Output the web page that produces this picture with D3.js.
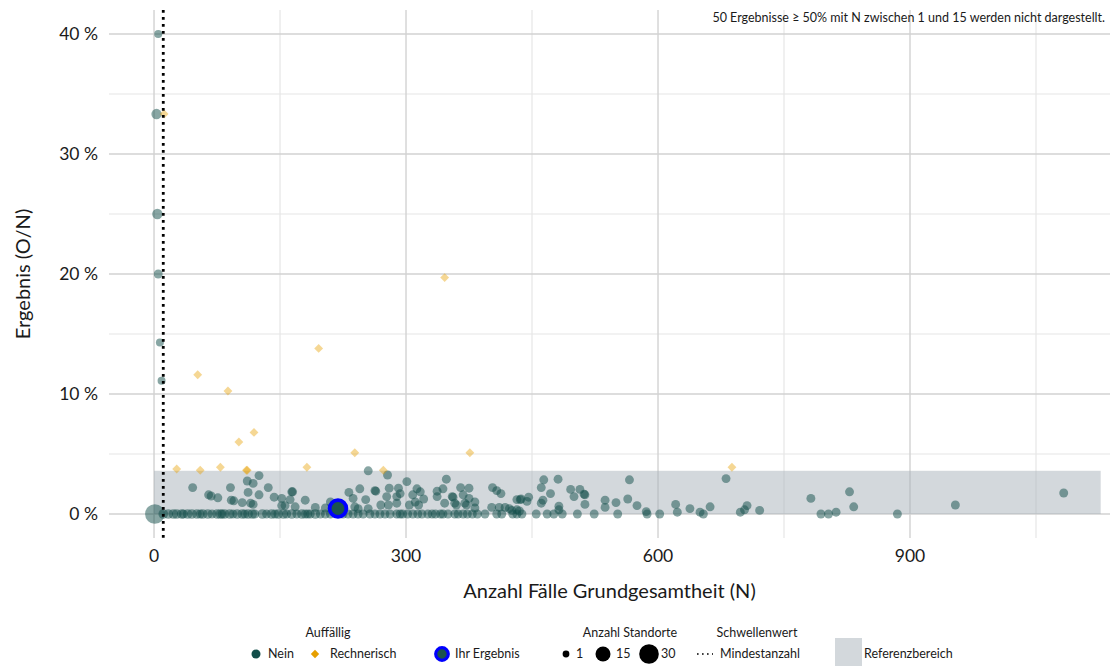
<!DOCTYPE html>
<html>
<head>
<meta charset="utf-8">
<script src="https://cdn.jsdelivr.net/npm/d3@7"></script>
<style>
  body { margin: 0; background: #fff; }
  svg { display: block; font-family: Lato, "Open Sans", sans-serif; }
</style>
</head>
<body>
<svg id="chart" width="1112" height="666"></svg>
<script>
// Results per hospital: number of cases N, result O/N in percent, number of sites
// Hospitals with a result of 0 % : [N, sites]
const zeroPoints = [
  [1,30],[11,4],[17,4],[23,4],[27,4],[33,4],[35,3],[40,4],[45,4],[51,4],[55,3],[58,4],[64,4],[69,3],
  [75,4],[79,4],[81,3],[84,4],[90,4],[94,3],[99,4],[105,4],[108,3],[112,4],[117,4],[120,3],[129,4],
  [134,3],[140,4],[144,3],[148,4],[154,4],[158,3],[164,4],[170,3],[176,4],[180,3],[183,3],[186,3],
  [192,4],[198,3],[204,3],[210,3],[225,3],[231,3],[237,3],[243,3],[249,3],[257,3],[263,3],[269,3],
  [275,3],[281,3],[289,3],[293,3],[296,3],[302,3],[308,3],[314,3],[319,3],[326,3],[331,3],[335,3],
  [341,3],[344,3],[350,3],[358,3],[362,3],[368,3],[373,3],[379,3],[385,3],[394,3],[408,3],[414,3],
  [427,3],[432,3],[438,3],[455,3],[468,3],[476,3],[486,3],[504,3],[524,3],[552,3],[587,3],[602,3],
  [654,3],[794,3],[803,3],[885,3]
];

// Hospitals with a result above 0 %, not flagged: [N, percent, sites]
const neinPoints = [
  [5,40,2],[3,33.33,5],[4,25,5],[5,20,3],[7,14.29,2],[9,11.11,2],
  [46,2.2,3],[65,1.6,3],[68,1.5,3],[76,1.35,3],[91,2.2,3],[92,1.15,3],[95,1.1,3],[111,2.75,3],
  [118,2.55,3],[125,3.2,3],[112,1.8,3],[105,0.95,3],[115,0.9,3],[118,0.8,3],[125,1.6,3],[136,2.2,3],
  [143,1.4,3],[152,1.3,3],[152,0.7,3],[156,0.7,3],[164,1.85,3],[165,1.85,3],[162,1.2,3],[168,0.6,3],
  [180,1.15,3],[192,0.55,3],[204,0.5,3],[210,1.0,3],[232,1.8,3],[237,1.3,3],[245,2.1,3],[252,1.2,3],
  [255,3.6,3],[255,0.45,3],[239,0.6,3],[243,0.45,3],[263,1.95,3],[264,1.9,3],[270,0.75,3],[277,1.45,3],
  [278,3.25,3],[279,0.75,3],[280,2.15,3],[289,1.45,3],[289,0.9,3],[291,2.15,3],[293,1.7,3],[301,2.7,3],
  [304,0.75,3],[308,1.6,3],[311,1.0,3],[313,2.1,3],[315,0.75,3],[317,1.85,3],[321,1.25,3],[337,1.9,3],
  [337,1.45,3],[344,2.1,3],[346,0.9,3],[348,2.9,3],[355,1.45,3],[356,1.4,3],[358,0.9,3],[360,0.75,3],
  [365,2.2,3],[368,1.6,3],[370,0.9,3],[372,0.75,3],[375,2.15,3],[375,1.3,3],[382,1.0,3],[382,0.5,3],
  [403,2.2,3],[408,1.95,3],[413,1.7,3],[402,0.55,3],[411,0.55,3],[418,0.55,3],[423,0.45,3],[426,0.3,3],
  [432,1.2,3],[436,1.2,3],[437,1.25,3],[444,1.05,3],[446,1.4,3],[432,0.35,3],[435,0.25,3],[461,2.2,3],
  [464,2.85,3],[481,2.9,3],[472,1.7,3],[463,1.15,3],[461,0.9,3],[482,0.65,3],[482,0.35,3],[496,2.05,3],
  [500,1.45,3],[507,2.05,3],[512,1.65,3],[513,1.6,3],[513,0.8,3],[537,1.15,3],[537,0.55,3],[550,0.95,3],
  [564,1.25,3],[566,2.85,3],[575,0.7,3],[586,0.2,3],[621,0.8,3],[623,0.15,3],[638,0.45,3],[650,0.15,3],
  [662,0.6,3],[681,2.95,3],[698,0.15,3],[703,0.35,3],[706,0.7,3],[721,0.3,3],[782,1.3,3],[812,0.15,3],
  [828,1.85,3],[833,0.6,3],[954,0.75,3],[1083,1.75,3]
];

// Flagged results ("Rechnerisch"): [N, percent]
const rechnerischPoints = [
  [12,33.33],[346,19.7],[196,13.8],[52,11.6],[88,10.25],[101,6.0],[119,6.8],[27,3.75],[55,3.65],
  [79,3.9],[110,3.65],[111,3.65],[182,3.9],[239,5.1],[273,3.65],[376,5.1],[688,3.9]
];

// Own result
const ownResult = [219, 0.46];

// Reference range and minimum case number
const referenceRange = [0, 3.6];
const referenceN = [0, 1127];
const minN = 11;

// Axis ticks
const xTicksMajor = [0, 300, 600, 900];
const xTicksMinor = [150, 450, 750, 1050];
const yTicksMajor = [0, 10, 20, 30, 40];
const yTicksMinor = [5, 15, 25, 35];
const yTickLabels = ["0 %", "10 %", "20 %", "30 %", "40 %"];

const note = "50 Ergebnisse \u2265 50% mit N zwischen 1 und 15 werden nicht dargestellt.";

const colNein = "#124e4a";
const colRech = "#e69f00";
const colOwn = "#0000ff";

const svg = d3.select("#chart");
const panel = { left: 109, right: 1110, top: 10, bottom: 538 };

const x = d3.scaleLinear().domain([-53.6, 1138.1]).range([panel.left, panel.right]);
const y = d3.scaleLinear().domain([-2, 42]).range([panel.bottom, panel.top]);
const r = d3.scalePow().exponent(0.5).domain([1, 30]).range([3.4, 9.8]);

// Grid
const grid = svg.append("g");
grid.selectAll(".hmin").data(yTicksMinor).join("line")
  .attr("x1", panel.left).attr("x2", panel.right)
  .attr("y1", d => y(d)).attr("y2", d => y(d))
  .attr("stroke", "#e6e6e6").attr("stroke-width", 1.2);
grid.selectAll(".vmin").data(xTicksMinor).join("line")
  .attr("y1", panel.top).attr("y2", panel.bottom)
  .attr("x1", d => x(d)).attr("x2", d => x(d))
  .attr("stroke", "#e6e6e6").attr("stroke-width", 1.2);
grid.selectAll(".hmaj").data(yTicksMajor).join("line")
  .attr("x1", panel.left).attr("x2", panel.right)
  .attr("y1", d => y(d)).attr("y2", d => y(d))
  .attr("stroke", "#d2d2d2").attr("stroke-width", 1.4);
grid.selectAll(".vmaj").data(xTicksMajor).join("line")
  .attr("y1", panel.top).attr("y2", panel.bottom)
  .attr("x1", d => x(d)).attr("x2", d => x(d))
  .attr("stroke", "#d2d2d2").attr("stroke-width", 1.4);

// Reference range
svg.append("rect")
  .attr("x", x(referenceN[0])).attr("width", x(referenceN[1]) - x(referenceN[0]))
  .attr("y", y(referenceRange[1])).attr("height", y(referenceRange[0]) - y(referenceRange[1]))
  .attr("fill", "#a8b2ba").attr("fill-opacity", 0.5);

// Points
const pts = svg.append("g");
pts.selectAll(".z").data(zeroPoints).join("circle")
  .attr("cx", d => x(d[0])).attr("cy", y(0)).attr("r", d => r(d[1]))
  .attr("fill", colNein).attr("fill-opacity", 0.5);
pts.selectAll(".n").data(neinPoints).join("circle")
  .attr("cx", d => x(d[0])).attr("cy", d => y(d[1])).attr("r", d => r(d[2]))
  .attr("fill", colNein).attr("fill-opacity", 0.5);

const diamond = d3.symbol().type(d3.symbolDiamond2).size(50);
pts.selectAll(".rch").data(rechnerischPoints).join("path")
  .attr("d", diamond)
  .attr("transform", d => `translate(${x(d[0])},${y(d[1])})`)
  .attr("fill", colRech).attr("fill-opacity", 0.42);

// Minimum case number
svg.append("line")
  .attr("x1", x(minN)).attr("x2", x(minN))
  .attr("y1", panel.top).attr("y2", panel.bottom)
  .attr("stroke", "#000").attr("stroke-width", 2.8).attr("stroke-dasharray", "2.8,4.2");

// Own result
svg.append("circle")
  .attr("cx", x(ownResult[0])).attr("cy", y(ownResult[1])).attr("r", 8.4)
  .attr("fill", "#1b534e").attr("stroke", colOwn).attr("stroke-width", 3.8);

// Axis labels
const txt = "#1a1a1a";
svg.append("g").selectAll("text").data(yTicksMajor).join("text")
  .attr("x", 98).attr("y", d => y(d)).attr("dy", "0.35em")
  .attr("text-anchor", "end").attr("font-size", 17.5).attr("fill", txt)
  .text((d, i) => yTickLabels[i]);
svg.append("g").selectAll("text").data(xTicksMajor).join("text")
  .attr("x", d => x(d)).attr("y", 562)
  .attr("text-anchor", "middle").attr("font-size", 17.5).attr("fill", txt)
  .text(d => d);

svg.append("text")
  .attr("x", (panel.left + panel.right) / 2).attr("y", 598)
  .attr("text-anchor", "middle").attr("font-size", 20).attr("fill", txt)
  .text("Anzahl Fälle Grundgesamtheit (N)");
svg.append("text")
  .attr("transform", `translate(30,${(panel.top + panel.bottom) / 2}) rotate(-90)`)
  .attr("text-anchor", "middle").attr("font-size", 20).attr("fill", txt)
  .text("Ergebnis (O/N)");

svg.append("text")
  .attr("x", 1105).attr("y", 22).attr("text-anchor", "end")
  .attr("font-size", 12.5).attr("fill", txt).text(note);

// Legend
const lg = svg.append("g").attr("font-size", 12.5).attr("fill", txt);
const ly = 654;
lg.append("text").attr("x", 328).attr("y", 637).attr("text-anchor", "middle").text("Auffällig");
lg.append("circle").attr("cx", 256).attr("cy", ly).attr("r", 4.5).attr("fill", colNein);
lg.append("text").attr("x", 268).attr("y", ly).attr("dy", "0.35em").text("Nein");
lg.append("path").attr("d", d3.symbol().type(d3.symbolDiamond2).size(45))
  .attr("transform", `translate(315,${ly})`).attr("fill", colRech);
lg.append("text").attr("x", 330).attr("y", ly).attr("dy", "0.35em").text("Rechnerisch");

lg.append("circle").attr("cx", 442).attr("cy", ly).attr("r", 6.3)
  .attr("fill", "#1b534e").attr("stroke", colOwn).attr("stroke-width", 3.2);
lg.append("text").attr("x", 455).attr("y", ly).attr("dy", "0.35em").text("Ihr Ergebnis");

lg.append("text").attr("x", 630).attr("y", 637).attr("text-anchor", "middle").text("Anzahl Standorte");
const sizeKeys = [[1, 566, 576], [15, 603, 616], [30, 649, 661]];
sizeKeys.forEach(([s, cx, tx]) => {
  lg.append("circle").attr("cx", cx).attr("cy", ly).attr("r", r(s)).attr("fill", "#000");
  lg.append("text").attr("x", tx).attr("y", ly).attr("dy", "0.35em").text(s);
});

lg.append("text").attr("x", 757).attr("y", 637).attr("text-anchor", "middle").text("Schwellenwert");
lg.append("line").attr("x1", 697).attr("x2", 713).attr("y1", ly).attr("y2", ly)
  .attr("stroke", "#000").attr("stroke-width", 1.6).attr("stroke-dasharray", "1.6,3.4");
lg.append("text").attr("x", 720).attr("y", ly).attr("dy", "0.35em").text("Mindestanzahl");

lg.append("rect").attr("x", 835).attr("y", 638).attr("width", 27).attr("height", 28)
  .attr("fill", "#a8b2ba").attr("fill-opacity", 0.5);
lg.append("text").attr("x", 864).attr("y", ly).attr("dy", "0.35em").text("Referenzbereich");
</script>
</body>
</html>
